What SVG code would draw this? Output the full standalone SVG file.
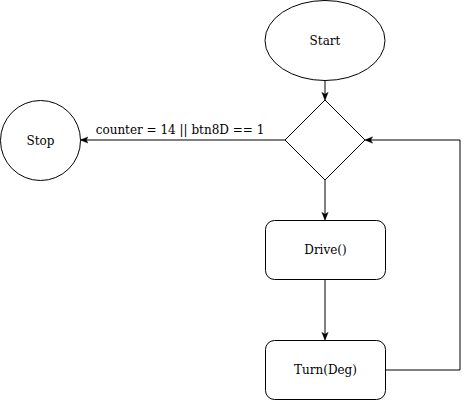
<svg xmlns="http://www.w3.org/2000/svg" width="469" height="401" viewBox="0 0 469 401">
<style>
.s{fill:#fff;stroke:#000;stroke-width:1}
.t{font-family:"DejaVu Serif",serif;font-size:12px;fill:#000;text-anchor:middle;dominant-baseline:central}
.c{fill:none;stroke:#000;stroke-width:1}
</style>
<defs>
<marker id="a" viewBox="0 0 10 10" refX="9" refY="5" markerWidth="8" markerHeight="8" markerUnits="userSpaceOnUse" orient="auto">
<path d="M0,1 L10,5 L0,9 L2.5,5 Z" fill="#000" stroke="#000" stroke-width="0.5"/>
</marker>
</defs>
<rect width="469" height="401" fill="#fff"/>
<g id="connectors">
<path class="c" d="M325,80.5 V99.5" marker-end="url(#a)"/>
<path class="c" d="M285,140 H81" marker-end="url(#a)"/>
<path class="c" d="M325,180 V219.5" marker-end="url(#a)"/>
<path class="c" d="M325,280 V339.5" marker-end="url(#a)"/>
<path class="c" d="M385,370 H460 V140 H365.5" marker-end="url(#a)"/>
<text class="t" x="180" y="130">counter = 14 || btn8D == 1</text>
</g>
<g id="start">
<ellipse class="s" cx="325" cy="40.5" rx="60" ry="40"/>
<text class="t" x="325" y="40.5">Start</text>
</g>
<g id="decision">
<path class="s" d="M325,100 L365,140 L325,180 L285,140 Z"/>
</g>
<g id="stop">
<circle class="s" cx="40.5" cy="140.5" r="40"/>
<text class="t" x="40.5" y="140.5">Stop</text>
</g>
<g id="drive">
<rect class="s" x="265.5" y="220.5" width="120" height="59" rx="9"/>
<text class="t" x="325.5" y="250">Drive()</text>
</g>
<g id="turn">
<rect class="s" x="265.5" y="340.5" width="120" height="59" rx="9"/>
<text class="t" x="325.5" y="370">Turn(Deg)</text>
</g>
</svg>
